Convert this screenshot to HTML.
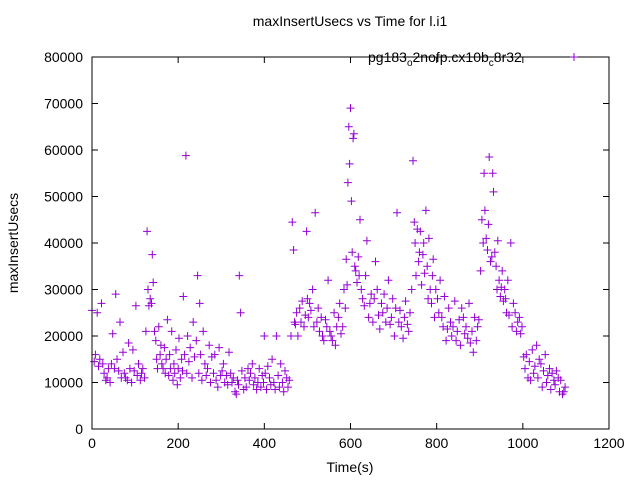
<!DOCTYPE html>
<html><head><meta charset="utf-8"><style>
body{margin:0;background:#fff}
svg{display:block;font-family:"Liberation Sans",sans-serif}
</style></head><body>
<svg id="chart" width="640" height="480">
<text x="350" y="26" font-size="14" text-anchor="middle">maxInsertUsecs vs Time for l.i1</text>
<text x="350" y="472" font-size="14" text-anchor="middle">Time(s)</text>
<text transform="translate(18,243) rotate(-90)" font-size="14" text-anchor="middle">maxInsertUsecs</text>
<g id="axes"></g>
<g id="points"></g>
<rect x="92" y="57" width="517" height="372" fill="none" stroke="#000" stroke-width="1"/>
<text x="368" y="62" font-size="14">pg183<tspan font-size="10" dy="4">o</tspan><tspan dy="-4">2nofp.cx10b</tspan><tspan font-size="10" dy="4">c</tspan><tspan dy="-4">8r32</tspan></text>
<g><path d="M570,57h8M574,53v8" stroke="#9400d3" stroke-width="1"/></g>
</svg>
<script>
const xTicks=[0,200,400,600,800,1000,1200];
const yTicks=[0,10000,20000,30000,40000,50000,60000,70000,80000];
const times=[0,5,8,12,15,18,22,25,28,32,35,38,42,45,48,52,55,58,62,65,68,72,75,78,82,85,88,92,95,98,102,105,108,112,115,118,
122,125,128,130,132,135,138,140,142,145,148,150,152,155,158,160,162,165,168,170,172,175,178,180,182,185,188,190,192,195,198,200,202,205,208,210,212,215,218,220,
222,225,228,232,235,238,242,245,248,250,252,255,258,262,265,268,272,275,278,282,285,288,292,295,298,
302,305,308,312,315,318,322,325,328,332,335,338,340,342,345,348,352,355,358,362,365,368,372,375,378,382,385,388,392,395,398,400,402,405,408,412,415,418,422,425,428,432,435,438,442,445,448,452,455,458,
462,465,468,470,472,475,478,482,485,488,492,495,498,500,502,505,508,512,515,518,522,525,528,532,535,538,542,545,548,552,555,558,562,565,568,572,575,578,582,585,588,
590,592,594,596,598,600,602,604,606,608,610,612,615,618,620,622,625,628,632,635,638,642,645,648,652,655,658,662,665,668,672,675,678,682,685,688,692,695,698,702,705,708,712,715,718,722,725,728,732,735,738,
742,745,748,750,752,755,758,760,762,765,768,770,772,775,778,780,782,785,788,790,792,795,798,
802,805,808,812,815,818,822,825,828,832,835,838,842,845,848,852,855,858,862,865,868,872,875,878,882,885,888,892,895,898,
902,905,908,910,912,915,918,920,922,925,928,930,932,935,938,940,942,945,948,950,952,955,958,960,962,965,968,972,975,978,982,985,988,992,995,998,
1002,1005,1008,1012,1015,1018,1022,1025,1028,1032,1035,1038,1042,1045,1048,1052,1055,1058,1062,1065,1068,1072,1075,1078,1082,1085,1088,1092,1095,1098];
const usecs=[25500,14500,16000,25000,13500,15000,27000,14000,12000,10500,11000,13000,10000,14000,20500,13000,29000,15000,12500,23000,11000,16500,12000,11000,10500,18500,13000,10000,17000,12500,26500,11500,14000,10500,12000,13000,
11000,21000,42500,30000,26500,28000,27000,37500,31500,21000,19000,15000,13000,22000,16000,18000,14000,13000,17500,12000,15000,23500,11500,16000,13000,21000,10500,14000,12000,17000,9500,13000,19500,11000,15000,12500,28500,16000,58800,12000,
20000,14500,17500,11000,23000,15500,19000,33000,12000,27000,16000,10500,21000,14000,11500,13000,18000,10000,15500,12000,16000,10500,9000,17500,11500,
12500,14000,10000,11500,9500,16500,12000,10000,11000,8000,7500,10500,9500,33000,25000,12500,8500,11000,9000,13000,10500,12000,14000,9500,11000,8500,10000,13000,9000,11500,10000,20000,12000,8500,13500,11000,9500,15000,10000,8500,20000,11500,9000,14000,10000,8000,12500,11000,9000,10500,
20000,44500,38500,23000,22500,25000,20000,26000,23000,27500,22000,24500,42500,28000,24000,27000,25500,30000,22000,46500,23000,26000,21000,24000,20000,19000,23500,22000,32000,21000,20000,19000,25000,18000,22000,24000,27000,20500,22000,30000,26000,
36500,31000,53000,65000,57000,69000,49000,38000,62500,63500,35000,34000,31500,37000,33000,45000,30000,28000,26500,33000,40500,24000,27000,29000,23000,28000,36000,30000,24500,21500,27000,25000,29000,23000,26000,32000,22500,24000,28000,20000,26000,46500,23000,25500,22000,19500,24000,27500,22500,21000,25000,
30000,57700,44500,40000,33000,43000,36000,38000,42500,31000,37500,40000,33500,47000,35000,28000,41000,30000,27000,33000,36500,24000,30000,
28000,25000,32000,24000,22000,28500,19000,21500,26000,23000,20000,22000,27500,19000,21000,23500,18000,26000,24000,20500,22000,19500,27000,18500,21000,16500,24000,19000,22000,23500,
34000,45000,40000,55000,47000,41000,38500,44000,58500,36000,37000,55000,51000,38000,35000,30000,40500,32000,28500,30500,34000,27500,30000,28000,25000,32000,24500,40000,22000,27000,25000,21000,23000,24000,20500,22000,
15500,13000,16000,11000,14500,10500,17000,12000,13500,18000,11000,15000,14000,9000,12500,16000,10000,11500,13000,8500,12000,10500,9500,12500,11000,8000,10500,7500,8000,9000];
const X0=92,X1=609,Y0=429,Y1=57;
function sx(v){return X0+(v-0)/(1200-0)*(X1-X0);}
function sy(v){return Y0-(v-0)/(80000-0)*(Y0-Y1);}
const NS="http://www.w3.org/2000/svg";
const axes=document.getElementById('axes');
xTicks.forEach(t=>{
  const x=sx(t);
  const p=document.createElementNS(NS,'path');
  p.setAttribute('d',`M${x},${Y0}v-6M${x},${Y1}v6`);p.setAttribute('stroke','#000');
  
  
  axes.appendChild(p);
  const tx=document.createElementNS(NS,'text');
  tx.setAttribute('x',x);tx.setAttribute('y',Y0+19);tx.setAttribute('font-size','14');tx.setAttribute('text-anchor','middle');
  tx.textContent=t;
  
  
  axes.appendChild(tx);
});
yTicks.forEach(t=>{
  const y=sy(t);
  const p=document.createElementNS(NS,'path');
  p.setAttribute('d',`M${X0},${y}h6M${X1},${y}h-6`);p.setAttribute('stroke','#000');
  
  
  axes.appendChild(p);
  const tx=document.createElementNS(NS,'text');
  tx.setAttribute('x',X0-9);tx.setAttribute('y',y+5);tx.setAttribute('font-size','14');tx.setAttribute('text-anchor','end');
  tx.textContent=t;
  
  
  axes.appendChild(tx);
});
const g=document.getElementById('points');
let d='';
for(let i=0;i<times.length;i++){
  const x=sx(times[i]),y=sy(usecs[i]);
  d+=`M${(x-4).toFixed(1)},${y.toFixed(1)}h8M${x.toFixed(1)},${(y-4).toFixed(1)}v8`;
}
const pts=document.createElementNS(NS,'path');
pts.setAttribute('d',d);pts.setAttribute('stroke','#9400d3');pts.setAttribute('stroke-width','1');pts.setAttribute('fill','none');


g.appendChild(pts);
</script>
</body></html>
